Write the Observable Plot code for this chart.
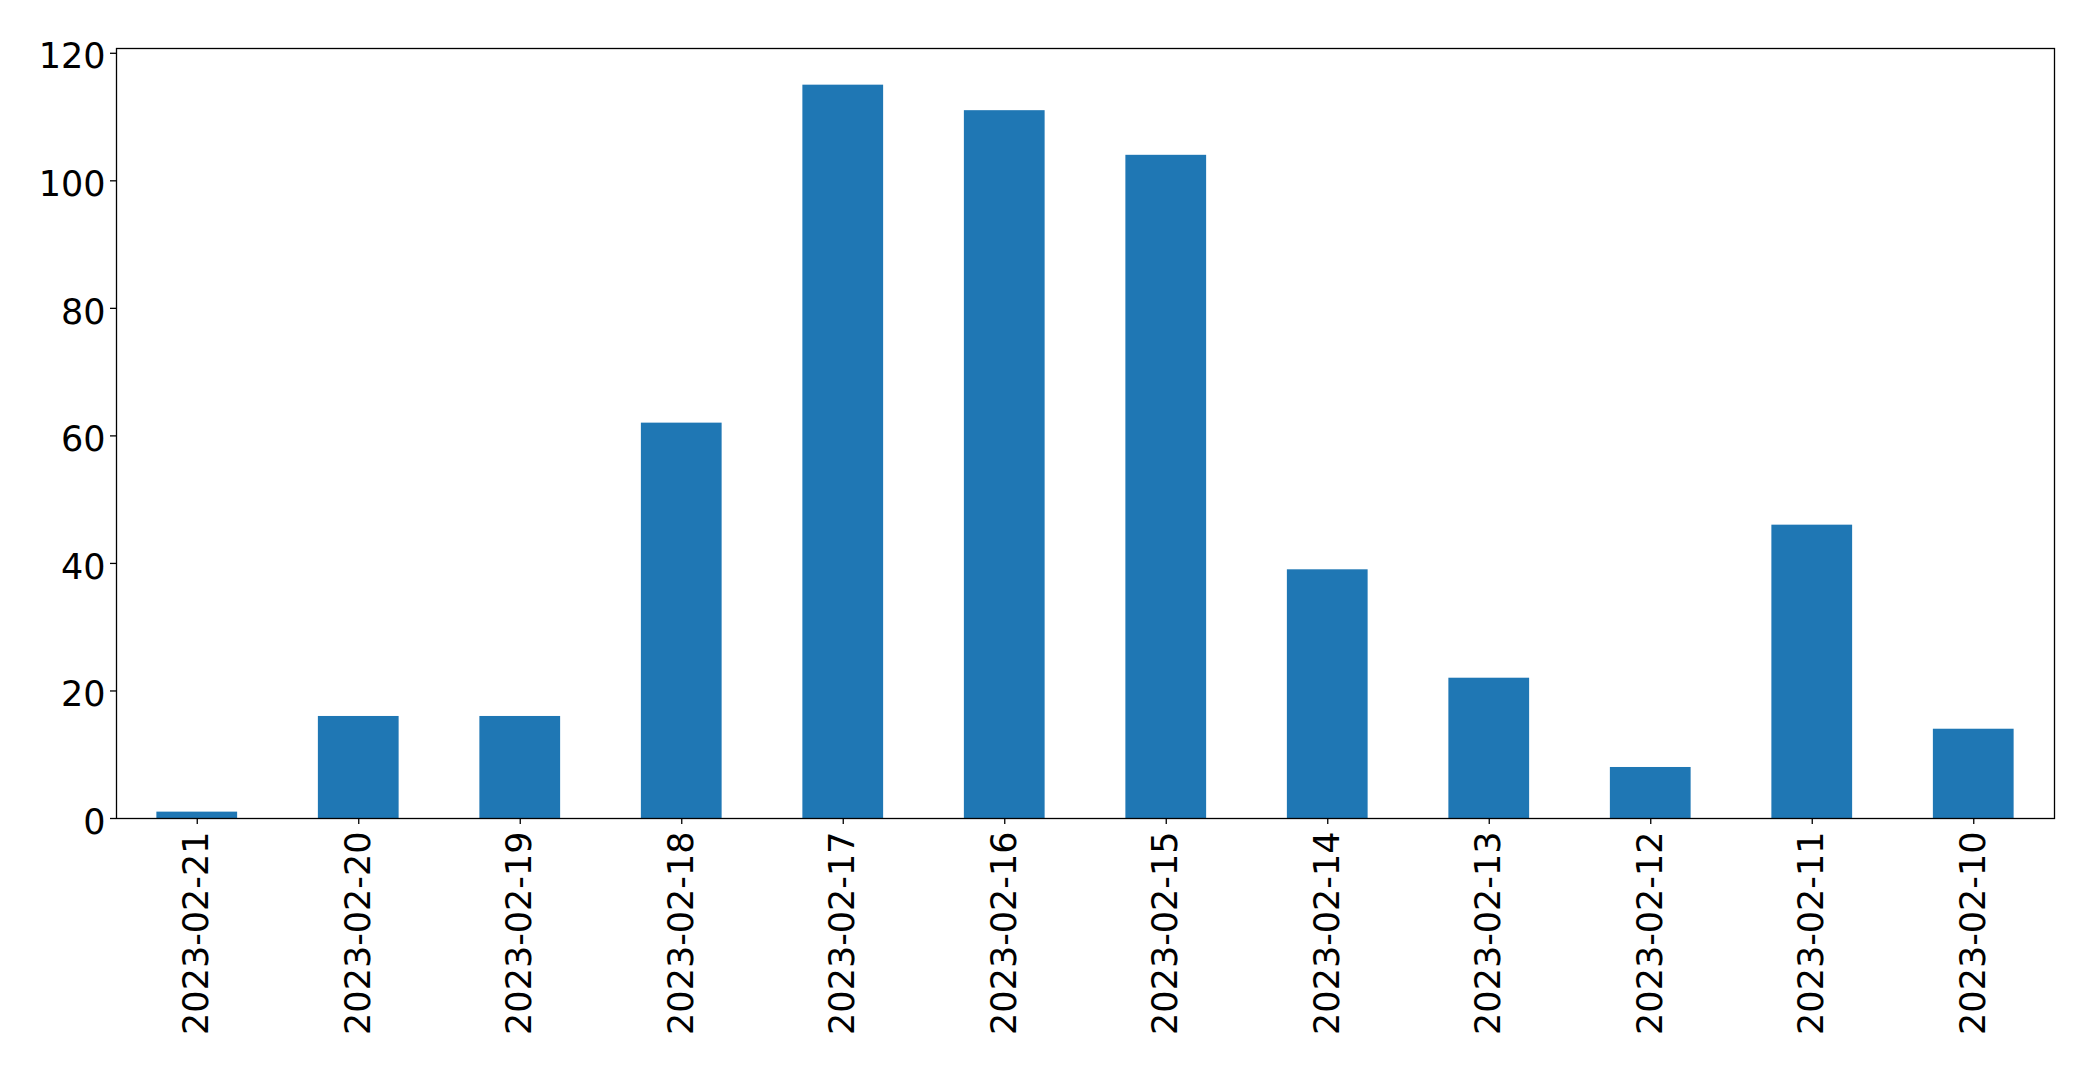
<!DOCTYPE html>
<html>
<head>
<meta charset="utf-8">
<script src="https://cdn.jsdelivr.net/npm/d3@7"></script>
<script src="https://cdn.jsdelivr.net/npm/@observablehq/plot@0.6"></script>
<style>
  html, body { margin: 0; padding: 0; background: #fff; }
  #chart svg { display: block; }
</style>
</head>
<body>
<div id="chart"></div>
<script>
const dates = ["2023-02-21","2023-02-20","2023-02-19","2023-02-18","2023-02-17","2023-02-16","2023-02-15","2023-02-14","2023-02-13","2023-02-12","2023-02-11","2023-02-10"];
const counts = [1, 16, 16, 62, 115, 111, 104, 39, 22, 8, 46, 14];
const yTicks = [0, 20, 40, 60, 80, 100, 120];

const data = dates.map((d, i) => ({date: d, count: counts[i]}));

const chart = Plot.plot({
  width: 2093,
  height: 1070,
  marginLeft: 116,
  marginRight: 39,
  marginTop: 48,
  marginBottom: 252,
  style: {fontFamily: "DejaVu Sans", fontSize: "35px", color: "black", background: "white"},
  x: {domain: dates, paddingInner: 0.5, paddingOuter: 0.25, align: 0.5, round: false, label: null},
  y: {domain: [0, 120.75], label: null},
  marks: [
    Plot.barY(data, {x: "date", y: "count", fill: "#1f77b4"}),
    Plot.axisY({ticks: yTicks, tickSize: 6, text: null, label: null, stroke: "black", strokeWidth: 1.3}),
    Plot.axisY({ticks: yTicks, tickSize: 0, tickPadding: 11, fontSize: 35, dy: 4, label: null}),
    Plot.axisX({tickRotate: -90, tickSize: 6, tickPadding: 7, fontSize: 35, label: null, stroke: "black", strokeWidth: 1.3}),
    Plot.frame({stroke: "black", strokeWidth: 1.3})
  ]
});
document.getElementById("chart").appendChild(chart);
</script>
</body>
</html>
